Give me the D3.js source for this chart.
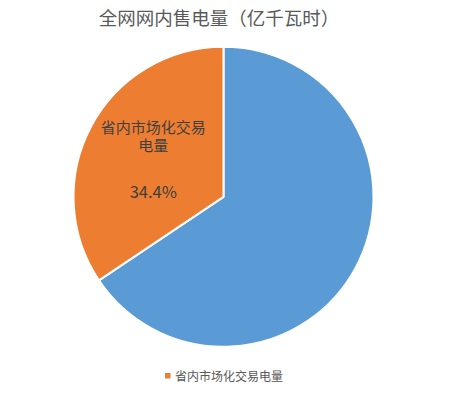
<!DOCTYPE html>
<html>
<head>
<meta charset="utf-8">
<script src="https://cdn.jsdelivr.net/npm/d3@7"></script>
<style>
  html, body { margin: 0; padding: 0; background: #ffffff; }
  svg { display: block; font-family: "Microsoft YaHei", "Noto Sans CJK SC", sans-serif; }
</style>
</head>
<body>
<svg id="chart" width="456" height="394"></svg>
<script>
// Share of electricity sold within the grid (%)
const categories = ["其他售电量", "省内市场化交易电量"];
const shares = [65.6, 34.4];
const colors = ["#5B9BD5", "#ED7D31"];
const legendItems = ["省内市场化交易电量"];
const labelLines = ["省内市场化交易", "电量"];
const title = "全网网内售电量（亿千瓦时）";

const svg = d3.select("#chart");
const W = 456, H = 394;
const cx = 223.5, cy = 196.8, r = 150;

svg.append("rect").attr("width", W).attr("height", H).attr("fill", "#ffffff");

svg.append("text")
  .attr("x", 219).attr("y", 25)
  .attr("text-anchor", "middle")
  .attr("font-size", 18.5)
  .attr("fill", "#595959")
  .text(title);

const data = categories.map((c, i) => ({ name: c, value: shares[i], color: colors[i] }));
const pie = d3.pie().value(d => d.value).sort(null);
const arc = d3.arc().innerRadius(0).outerRadius(r);
const arcs = pie(data);

const g = svg.append("g").attr("transform", `translate(${cx},${cy})`);
g.selectAll("path")
  .data(arcs)
  .join("path")
  .attr("d", arc)
  .attr("fill", d => d.data.color)
  .attr("stroke", "#ffffff")
  .attr("stroke-width", 2)
  .attr("stroke-linejoin", "round");

// Data label for the market-trading slice, anchored at the slice's mid-angle
const labelArc = arcs[1];
const mid = (labelArc.startAngle + labelArc.endAngle) / 2;
const lr = 0.5 * r;
const lx = Math.sin(mid) * lr, ly = -Math.cos(mid) * lr;
const lab = g.append("g")
  .attr("transform", `translate(${lx},${ly})`)
  .attr("text-anchor", "middle")
  .attr("fill", "#404040");
// Wrapped category name: one text element, one tspan per line
const name = lab.append("text").attr("font-size", 15);
labelLines.forEach((line, i) => {
  name.append("tspan")
    .attr("x", -4)
    .attr("y", -28.5 + i * 18)
    .text(line);
});
lab.append("text").attr("x", -4).attr("y", 36.5).attr("font-size", 16.5)
  .text(d3.format(".1f")(labelArc.data.value) + "%");

// Legend
const lg = svg.append("g").attr("transform", "translate(165,381)");
legendItems.forEach((item) => {
  const d = data.find(x => x.name === item);
  lg.append("rect").attr("x", 0).attr("y", -8).attr("width", 5.5).attr("height", 5.5).attr("fill", d.color);
  lg.append("text").attr("x", 10).attr("y", 0).attr("font-size", 12).attr("fill", "#595959").text(item);
});
</script>
</body>
</html>
